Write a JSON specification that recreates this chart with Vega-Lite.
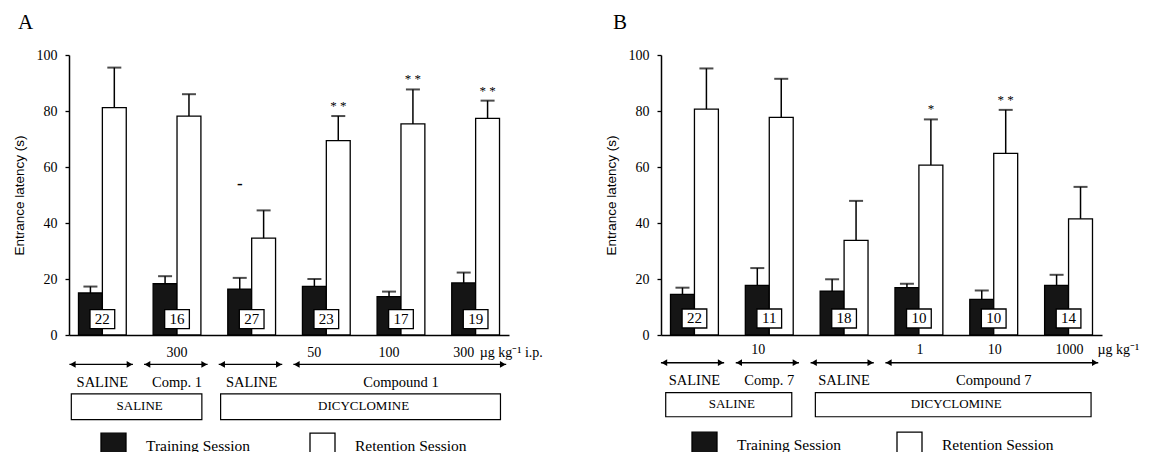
{
  "$schema": "https://vega.github.io/schema/vega-lite/v6.json",
  "padding": {"left": 12, "top": 12, "right": 0, "bottom": 0},
  "background": "white",
  "bounds": "flush",
  "spacing": 152,
  "config": {
    "view": {"stroke": null},
    "font": "Liberation Serif",
    "text": {"font": "Liberation Serif", "color": "black"},
    "axis": {"grid": false, "domainColor": "black", "tickColor": "black", "labelColor": "black", "titleColor": "black"}
  },
  "resolve": {
    "scale": {"x": "independent", "y": "independent", "fill": "independent", "xOffset": "independent"},
    "legend": {"fill": "independent"}
  },
  "datasets": {
    "barsA": [
      {"group": "SAL-SAL", "session": "Training Session", "value": 15.0, "upper": 17.3},
      {"group": "SAL-SAL", "session": "Retention Session", "value": 81.2, "upper": 95.5},
      {"group": "SAL-C300", "session": "Training Session", "value": 18.3, "upper": 21.0},
      {"group": "SAL-C300", "session": "Retention Session", "value": 78.2, "upper": 86.0},
      {"group": "DIC-SAL", "session": "Training Session", "value": 16.4, "upper": 20.4},
      {"group": "DIC-SAL", "session": "Retention Session", "value": 34.6, "upper": 44.5},
      {"group": "DIC-C50", "session": "Training Session", "value": 17.4, "upper": 20.0},
      {"group": "DIC-C50", "session": "Retention Session", "value": 69.4, "upper": 78.2, "sig": "* *"},
      {"group": "DIC-C100", "session": "Training Session", "value": 13.7, "upper": 15.5},
      {"group": "DIC-C100", "session": "Retention Session", "value": 75.4, "upper": 87.7, "sig": "* *"},
      {"group": "DIC-C300", "session": "Training Session", "value": 18.6, "upper": 22.3},
      {"group": "DIC-C300", "session": "Retention Session", "value": 77.4, "upper": 83.7, "sig": "* *"}
    ],
    "barsB": [
      {"group": "SAL-SAL", "session": "Training Session", "value": 14.5, "upper": 16.9},
      {"group": "SAL-SAL", "session": "Retention Session", "value": 80.7, "upper": 95.2},
      {"group": "SAL-C10", "session": "Training Session", "value": 17.7, "upper": 23.9},
      {"group": "SAL-C10", "session": "Retention Session", "value": 77.7, "upper": 91.5},
      {"group": "DIC-SAL", "session": "Training Session", "value": 15.7, "upper": 19.9},
      {"group": "DIC-SAL", "session": "Retention Session", "value": 33.8, "upper": 47.9},
      {"group": "DIC-C1", "session": "Training Session", "value": 16.9, "upper": 18.3},
      {"group": "DIC-C1", "session": "Retention Session", "value": 60.7, "upper": 77.0, "sig": "*"},
      {"group": "DIC-C10", "session": "Training Session", "value": 12.7, "upper": 15.9},
      {"group": "DIC-C10", "session": "Retention Session", "value": 64.9, "upper": 80.4, "sig": "* *"},
      {"group": "DIC-C1000", "session": "Training Session", "value": 17.7, "upper": 21.5},
      {"group": "DIC-C1000", "session": "Retention Session", "value": 41.5, "upper": 52.9}
    ],
    "noteA": [{"group": "DIC-SAL", "session": "Training Session", "mark": "-"}],
    "countsA": [
      {"group": "SAL-SAL", "n": "22"}, {"group": "SAL-C300", "n": "16"}, {"group": "DIC-SAL", "n": "27"},
      {"group": "DIC-C50", "n": "23"}, {"group": "DIC-C100", "n": "17"}, {"group": "DIC-C300", "n": "19"}
    ],
    "countsB": [
      {"group": "SAL-SAL", "n": "22"}, {"group": "SAL-C10", "n": "11"}, {"group": "DIC-SAL", "n": "18"},
      {"group": "DIC-C1", "n": "10"}, {"group": "DIC-C10", "n": "10"}, {"group": "DIC-C1000", "n": "14"}
    ],
    "dosesA": [
      {"group": "SAL-C300", "dose": "300"}, {"group": "DIC-C50", "dose": "50"},
      {"group": "DIC-C100", "dose": "100"}, {"group": "DIC-C300", "dose": "300"}
    ],
    "dosesB": [
      {"group": "SAL-C10", "dose": "10"}, {"group": "DIC-C1", "dose": "1"},
      {"group": "DIC-C10", "dose": "10"}, {"group": "DIC-C1000", "dose": "1000"}
    ],
    "unitA": [{"group": "DIC-C300", "unit": "µg kg⁻¹ i.p."}],
    "unitB": [{"group": "DIC-C1000", "unit": "µg kg⁻¹"}],
    "arrowsA": [
      {"from": "SAL-SAL", "to": "SAL-SAL", "label": "SALINE", "mid": "SAL-SAL"},
      {"from": "SAL-C300", "to": "SAL-C300", "label": "Comp. 1", "mid": "SAL-C300"},
      {"from": "DIC-SAL", "to": "DIC-SAL", "label": "SALINE", "mid": "DIC-SAL"},
      {"from": "DIC-C50", "to": "DIC-C300", "label": "Compound 1", "mid": "DIC-C100"}
    ],
    "arrowsB": [
      {"from": "SAL-SAL", "to": "SAL-SAL", "label": "SALINE", "mid": "SAL-SAL"},
      {"from": "SAL-C10", "to": "SAL-C10", "label": "Comp. 7", "mid": "SAL-C10"},
      {"from": "DIC-SAL", "to": "DIC-SAL", "label": "SALINE", "mid": "DIC-SAL"},
      {"from": "DIC-C1", "to": "DIC-C1000", "label": "Compound 7", "mid": "DIC-C10"}
    ],
    "boxesA": [
      {"from": "SAL-SAL", "to": "SAL-C300", "mid": "SAL-SAL", "label": "SALINE"},
      {"from": "DIC-SAL", "to": "DIC-C300", "mid": "DIC-C50", "label": "DICYCLOMINE"}
    ],
    "boxesB": [
      {"from": "SAL-SAL", "to": "SAL-C10", "mid": "SAL-SAL", "label": "SALINE"},
      {"from": "DIC-SAL", "to": "DIC-C1000", "mid": "DIC-C1", "label": "DICYCLOMINE"}
    ]
  },
  "hconcat": [
    {
      "width": 440,
      "height": 280,
      "title": {"text": "A", "anchor": "start", "frame": "bounds", "font": "Liberation Serif", "fontSize": 21, "fontWeight": "normal", "color": "black", "dx": 6, "offset": -2, "baseline": "alphabetic"},
      "layer": [
        {
          "data": {"name": "barsA"},
          "mark": {"type": "bar", "stroke": "black", "strokeWidth": 1.3},
          "encoding": {
            "x": {"field": "group", "type": "nominal",
              "scale": {"domain": ["SAL-SAL", "SAL-C300", "DIC-SAL", "DIC-C50", "DIC-C100", "DIC-C300"], "paddingInner": 0.36, "paddingOuter": 0.127},
              "axis": {"title": null, "labels": false, "ticks": false, "domainWidth": 1.5}},
            "xOffset": {"field": "session", "type": "nominal", "scale": {"domain": ["Training Session", "Retention Session"]}},
            "y": {"field": "value", "type": "quantitative", "scale": {"domain": [0, 100], "nice": false},
              "axis": {"title": "Entrance latency (s)", "values": [0, 20, 40, 60, 80, 100], "tickSize": 4, "tickWidth": 1.3, "labelPadding": 8,
                "labelFont": "Liberation Serif", "labelFontSize": 14, "titleFont": "Liberation Sans", "titleFontSize": 13.5, "titleFontWeight": "normal",
                "titlePadding": 10, "domainWidth": 1.5}},
            "fill": {"field": "session", "type": "nominal",
              "scale": {"domain": ["Training Session", "Retention Session"], "range": ["#151515", "#ffffff"]},
              "legend": {"orient": "none", "legendX": 31, "legendY": 377, "direction": "horizontal", "title": null, "symbolType": "square",
                "symbolSize": 625, "symbolStrokeColor": "black", "symbolStrokeWidth": 1.3, "symbolOpacity": 1, "labelFont": "Liberation Serif",
                "labelFontSize": 15.5, "labelColor": "black", "labelOffset": 19, "columnPadding": 56, "padding": 0}}
          }
        },
        {
          "data": {"name": "barsA"},
          "mark": {"type": "rule", "color": "black", "strokeWidth": 1.5},
          "encoding": {
            "x": {"field": "group", "type": "nominal"},
            "xOffset": {"field": "session", "type": "nominal"},
            "y": {"field": "value", "type": "quantitative"},
            "y2": {"field": "upper"}
          }
        },
        {
          "data": {"name": "barsA"},
          "mark": {"type": "tick", "color": "black", "size": 14, "thickness": 2},
          "encoding": {
            "x": {"field": "group", "type": "nominal"},
            "xOffset": {"field": "session", "type": "nominal"},
            "y": {"field": "upper", "type": "quantitative"}
          }
        },
        {
          "data": {"name": "barsA"},
          "transform": [{"filter": "datum.sig"}],
          "mark": {"type": "text", "fontSize": 13, "baseline": "alphabetic", "dy": -6, "color": "black"},
          "encoding": {
            "x": {"field": "group", "type": "nominal"},
            "xOffset": {"field": "session", "type": "nominal"},
            "y": {"field": "upper", "type": "quantitative"},
            "text": {"field": "sig"}
          }
        },
        {
          "data": {"name": "noteA"},
          "mark": {"type": "text", "fontSize": 17, "fontWeight": "bold", "baseline": "middle", "color": "black"},
          "encoding": {
            "x": {"field": "group", "type": "nominal"},
            "xOffset": {"field": "session", "type": "nominal"},
            "y": {"datum": 54.0, "type": "quantitative"},
            "text": {"field": "mark"}
          }
        },
        {
          "data": {"name": "countsA"},
          "mark": {"type": "point", "shape": "M-1.3,-1H1.3V1H-1.3Z", "size": 361, "filled": true, "fill": "white", "stroke": "black", "strokeWidth": 1.3, "opacity": 1},
          "encoding": {
            "x": {"field": "group", "type": "nominal"},
            "y": {"datum": 5.7, "type": "quantitative"}
          }
        },
        {
          "data": {"name": "countsA"},
          "mark": {"type": "text", "fontSize": 15, "baseline": "middle", "color": "black"},
          "encoding": {
            "x": {"field": "group", "type": "nominal"},
            "y": {"datum": 5.7, "type": "quantitative"},
            "text": {"field": "n", "type": "nominal"}
          }
        },
        {
          "data": {"name": "dosesA"},
          "transform": [{"filter": "datum.group === 'SAL-C300'"}],
          "mark": {"type": "text", "fontSize": 14, "baseline": "middle", "color": "black"},
          "encoding": {
            "x": {"field": "group", "type": "nominal"},
            "y": {"datum": -6.25, "type": "quantitative"},
            "text": {"field": "dose", "type": "nominal"}
          }
        },
        {
          "data": {"name": "dosesA"},
          "transform": [{"filter": "datum.group !== 'SAL-C300'"}],
          "mark": {"type": "text", "fontSize": 14, "baseline": "middle", "dx": -12, "color": "black"},
          "encoding": {
            "x": {"field": "group", "type": "nominal"},
            "y": {"datum": -6.25, "type": "quantitative"},
            "text": {"field": "dose", "type": "nominal"}
          }
        },
        {
          "data": {"name": "unitA"},
          "mark": {"type": "text", "fontSize": 14, "baseline": "middle", "align": "left", "dx": 4, "color": "black"},
          "encoding": {
            "x": {"field": "group", "type": "nominal"},
            "y": {"datum": -6.25, "type": "quantitative"},
            "text": {"field": "unit", "type": "nominal"}
          }
        },
        {
          "data": {"name": "arrowsA"},
          "mark": {"type": "rule", "color": "black", "strokeWidth": 1.4},
          "encoding": {
            "x": {"field": "from", "type": "nominal", "bandPosition": -0.19},
            "x2": {"field": "to", "bandPosition": 1.14},
            "y": {"datum": -10.5, "type": "quantitative"}
          }
        },
        {
          "data": {"name": "arrowsA"},
          "mark": {"type": "point", "shape": "triangle-left", "size": 45, "filled": true, "color": "black", "opacity": 1},
          "encoding": {
            "x": {"field": "from", "type": "nominal", "bandPosition": -0.12},
            "y": {"datum": -10.5, "type": "quantitative"}
          }
        },
        {
          "data": {"name": "arrowsA"},
          "mark": {"type": "point", "shape": "triangle-right", "size": 45, "filled": true, "color": "black", "opacity": 1},
          "encoding": {
            "x": {"field": "to", "type": "nominal", "bandPosition": 1.07},
            "y": {"datum": -10.5, "type": "quantitative"}
          }
        },
        {
          "data": {"name": "arrowsA"},
          "mark": {"type": "text", "fontSize": 14.5, "baseline": "middle", "color": "black"},
          "encoding": {
            "x": {"field": "mid", "type": "nominal"},
            "y": {"datum": -17.0, "type": "quantitative"},
            "text": {"field": "label", "type": "nominal"}
          }
        },
        {
          "data": {"name": "boxesA"},
          "mark": {"type": "rect", "fill": "white", "stroke": "black", "strokeWidth": 1.2},
          "encoding": {
            "x": {"field": "from", "type": "nominal", "bandPosition": -0.15},
            "x2": {"field": "to", "bandPosition": 1.02},
            "y": {"datum": -21.0, "type": "quantitative"},
            "y2": {"datum": -30.2}
          }
        },
        {
          "data": {"name": "boxesA"},
          "mark": {"type": "text", "fontSize": 13, "baseline": "middle", "color": "black"},
          "encoding": {
            "x": {"field": "mid", "type": "nominal", "bandPosition": 1.28},
            "y": {"datum": -25.4, "type": "quantitative"},
            "text": {"field": "label", "type": "nominal"}
          }
        }
      ]
    },
    {
      "width": 441,
      "height": 280,
      "title": {"text": "B", "anchor": "start", "frame": "bounds", "font": "Liberation Serif", "fontSize": 21, "fontWeight": "normal", "color": "black", "dx": 9, "offset": -2, "baseline": "alphabetic"},
      "layer": [
        {
          "data": {"name": "barsB"},
          "mark": {"type": "bar", "stroke": "black", "strokeWidth": 1.3},
          "encoding": {
            "x": {"field": "group", "type": "nominal",
              "scale": {"domain": ["SAL-SAL", "SAL-C10", "DIC-SAL", "DIC-C1", "DIC-C10", "DIC-C1000"], "paddingInner": 0.36, "paddingOuter": 0.127},
              "axis": {"title": null, "labels": false, "ticks": false, "domainWidth": 1.5}},
            "xOffset": {"field": "session", "type": "nominal", "scale": {"domain": ["Training Session", "Retention Session"]}},
            "y": {"field": "value", "type": "quantitative", "scale": {"domain": [0, 100], "nice": false},
              "axis": {"title": "Entrance latency (s)", "values": [0, 20, 40, 60, 80, 100], "tickSize": 4, "tickWidth": 1.3, "labelPadding": 8,
                "labelFont": "Liberation Serif", "labelFontSize": 14, "titleFont": "Liberation Sans", "titleFontSize": 13.5, "titleFontWeight": "normal",
                "titlePadding": 10, "domainWidth": 1.5}},
            "fill": {"field": "session", "type": "nominal",
              "scale": {"domain": ["Training Session", "Retention Session"], "range": ["#151515", "#ffffff"]},
              "legend": {"orient": "none", "legendX": 30, "legendY": 376, "direction": "horizontal", "title": null, "symbolType": "square",
                "symbolSize": 625, "symbolStrokeColor": "black", "symbolStrokeWidth": 1.3, "symbolOpacity": 1, "labelFont": "Liberation Serif",
                "labelFontSize": 15.5, "labelColor": "black", "labelOffset": 19, "columnPadding": 52, "padding": 0}}
          }
        },
        {
          "data": {"name": "barsB"},
          "mark": {"type": "rule", "color": "black", "strokeWidth": 1.5},
          "encoding": {
            "x": {"field": "group", "type": "nominal"},
            "xOffset": {"field": "session", "type": "nominal"},
            "y": {"field": "value", "type": "quantitative"},
            "y2": {"field": "upper"}
          }
        },
        {
          "data": {"name": "barsB"},
          "mark": {"type": "tick", "color": "black", "size": 14, "thickness": 2},
          "encoding": {
            "x": {"field": "group", "type": "nominal"},
            "xOffset": {"field": "session", "type": "nominal"},
            "y": {"field": "upper", "type": "quantitative"}
          }
        },
        {
          "data": {"name": "barsB"},
          "transform": [{"filter": "datum.sig"}],
          "mark": {"type": "text", "fontSize": 13, "baseline": "alphabetic", "dy": -6, "color": "black"},
          "encoding": {
            "x": {"field": "group", "type": "nominal"},
            "xOffset": {"field": "session", "type": "nominal"},
            "y": {"field": "upper", "type": "quantitative"},
            "text": {"field": "sig"}
          }
        },
        {
          "data": {"name": "countsB"},
          "mark": {"type": "point", "shape": "M-1.3,-1H1.3V1H-1.3Z", "size": 361, "filled": true, "fill": "white", "stroke": "black", "strokeWidth": 1.3, "opacity": 1},
          "encoding": {
            "x": {"field": "group", "type": "nominal"},
            "y": {"datum": 5.9, "type": "quantitative"}
          }
        },
        {
          "data": {"name": "countsB"},
          "mark": {"type": "text", "fontSize": 15, "baseline": "middle", "color": "black"},
          "encoding": {
            "x": {"field": "group", "type": "nominal"},
            "y": {"datum": 5.9, "type": "quantitative"},
            "text": {"field": "n", "type": "nominal"}
          }
        },
        {
          "data": {"name": "dosesB"},
          "transform": [{"filter": "datum.group === 'SAL-C10'"}],
          "mark": {"type": "text", "fontSize": 14, "baseline": "middle", "dx": -11, "color": "black"},
          "encoding": {
            "x": {"field": "group", "type": "nominal"},
            "y": {"datum": -5.2, "type": "quantitative"},
            "text": {"field": "dose", "type": "nominal"}
          }
        },
        {
          "data": {"name": "dosesB"},
          "transform": [{"filter": "datum.group !== 'SAL-C10'"}],
          "mark": {"type": "text", "fontSize": 14, "baseline": "middle", "dx": 1, "color": "black"},
          "encoding": {
            "x": {"field": "group", "type": "nominal"},
            "y": {"datum": -5.2, "type": "quantitative"},
            "text": {"field": "dose", "type": "nominal"}
          }
        },
        {
          "data": {"name": "unitB"},
          "mark": {"type": "text", "fontSize": 14, "baseline": "middle", "align": "left", "dx": 29, "color": "black"},
          "encoding": {
            "x": {"field": "group", "type": "nominal"},
            "y": {"datum": -5.2, "type": "quantitative"},
            "text": {"field": "unit", "type": "nominal"}
          }
        },
        {
          "data": {"name": "arrowsB"},
          "mark": {"type": "rule", "color": "black", "strokeWidth": 1.4},
          "encoding": {
            "x": {"field": "from", "type": "nominal", "bandPosition": -0.2},
            "x2": {"field": "to", "bandPosition": 1.12},
            "y": {"datum": -9.9, "type": "quantitative"}
          }
        },
        {
          "data": {"name": "arrowsB"},
          "mark": {"type": "point", "shape": "triangle-left", "size": 45, "filled": true, "color": "black", "opacity": 1},
          "encoding": {
            "x": {"field": "from", "type": "nominal", "bandPosition": -0.13},
            "y": {"datum": -9.9, "type": "quantitative"}
          }
        },
        {
          "data": {"name": "arrowsB"},
          "mark": {"type": "point", "shape": "triangle-right", "size": 45, "filled": true, "color": "black", "opacity": 1},
          "encoding": {
            "x": {"field": "to", "type": "nominal", "bandPosition": 1.05},
            "y": {"datum": -9.9, "type": "quantitative"}
          }
        },
        {
          "data": {"name": "arrowsB"},
          "mark": {"type": "text", "fontSize": 14.5, "baseline": "middle", "color": "black"},
          "encoding": {
            "x": {"field": "mid", "type": "nominal"},
            "y": {"datum": -16.5, "type": "quantitative"},
            "text": {"field": "label", "type": "nominal"}
          }
        },
        {
          "data": {"name": "boxesB"},
          "mark": {"type": "rect", "fill": "white", "stroke": "black", "strokeWidth": 1.2},
          "encoding": {
            "x": {"field": "from", "type": "nominal", "bandPosition": -0.1},
            "x2": {"field": "to", "bandPosition": 0.97},
            "y": {"datum": -20.6, "type": "quantitative"},
            "y2": {"datum": -29.2}
          }
        },
        {
          "data": {"name": "boxesB"},
          "mark": {"type": "text", "fontSize": 13, "baseline": "middle", "color": "black"},
          "encoding": {
            "x": {"field": "mid", "type": "nominal", "bandPosition": 1.28},
            "y": {"datum": -24.8, "type": "quantitative"},
            "text": {"field": "label", "type": "nominal"}
          }
        }
      ]
    }
  ]
}
